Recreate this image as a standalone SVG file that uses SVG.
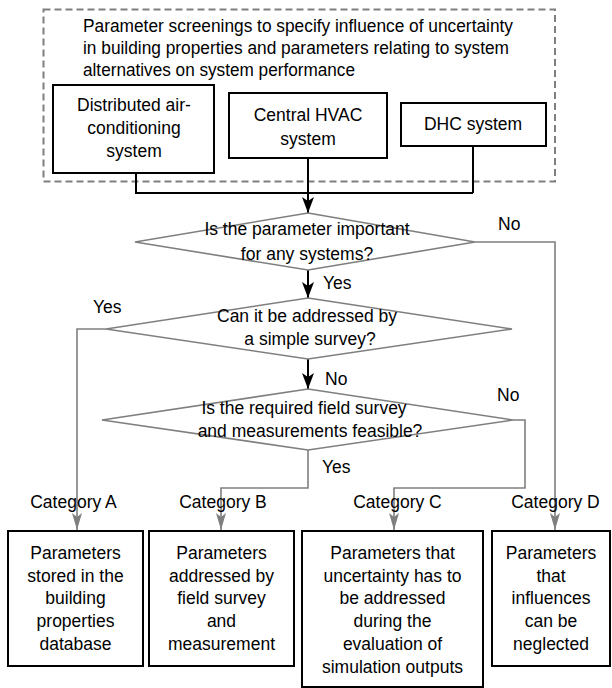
<svg xmlns="http://www.w3.org/2000/svg" width="612" height="688" viewBox="0 0 612 688">
<style>
text{font-family:"Liberation Sans",Arial,sans-serif;font-size:17.5px;fill:#000}
.c{text-anchor:middle}
.box{fill:#fff;stroke:#000;stroke-width:2}
.dia{fill:#fff;stroke:#7f7f7f;stroke-width:1.6}
.frame{fill:none;stroke:#7f7f7f;stroke-width:2;stroke-dasharray:7 4}
.bl{fill:none;stroke:#000;stroke-width:2}
.gl{fill:none;stroke:#7f7f7f;stroke-width:1.6}
</style>
<defs>
<marker id="ab" markerUnits="userSpaceOnUse" viewBox="0 0 16 12" refX="16" refY="6" markerWidth="16" markerHeight="12" orient="auto">
<path d="M0,0 L16,6 L0,12 L4,6 z" fill="#000"/>
</marker>
<marker id="ag" markerUnits="userSpaceOnUse" viewBox="0 0 17 10" refX="17" refY="5" markerWidth="17" markerHeight="10" orient="auto">
<path d="M0,0 L17,5 L0,10 L4,5 z" fill="#7f7f7f"/>
</marker>
</defs>

<g id="frame">
<rect class="frame" x="43.5" y="9.5" width="511.5" height="172"/>
<text x="83" y="32" textLength="430" lengthAdjust="spacingAndGlyphs">Parameter screenings to specify influence of uncertainty</text>
<text x="83" y="54" textLength="426" lengthAdjust="spacingAndGlyphs">in building properties and parameters relating to system</text>
<text x="83" y="76" textLength="272" lengthAdjust="spacingAndGlyphs">alternatives on system performance</text>
</g>

<g id="connectors">
<path class="bl" d="M136,173 V193 H473 M473,146 V193"/>
<path class="bl" d="M308,158 V213" marker-end="url(#ab)"/>
<path class="bl" d="M308,270 V298" marker-end="url(#ab)"/>
<path class="bl" d="M308,359 V389" marker-end="url(#ab)"/>
<path class="gl" d="M475,242 H555 V530" marker-end="url(#ag)"/>
<path class="gl" d="M106,329 H77 V530" marker-end="url(#ag)"/>
<path class="gl" d="M308,450 V488 H221 V530" marker-end="url(#ag)"/>
<path class="gl" d="M513,420 H525 V488 H394 V530" marker-end="url(#ag)"/>
<text x="498" y="230">No</text>
<text x="323" y="289">Yes</text>
<text x="93" y="313">Yes</text>
<text x="325" y="385">No</text>
<text x="497" y="401">No</text>
<text x="322" y="473">Yes</text>
<text class="c" x="73.5" y="508">Category A</text>
<text class="c" x="223" y="508">Category B</text>
<text class="c" x="397.5" y="508">Category C</text>
<text class="c" x="555.5" y="508">Category D</text>
</g>

<g id="distributed">
<rect class="box" x="53" y="85" width="161" height="88"/>
<text class="c" x="134" y="111">Distributed air-</text>
<text class="c" x="134" y="134">conditioning</text>
<text class="c" x="134" y="157">system</text>
</g>
<g id="central">
<rect class="box" x="229" y="93" width="158" height="65"/>
<text class="c" x="308" y="121">Central HVAC</text>
<text class="c" x="308" y="145">system</text>
</g>
<g id="dhc">
<rect class="box" x="401" y="103" width="145" height="43"/>
<text class="c" x="473" y="130">DHC system</text>
</g>

<g id="q1">
<polygon class="dia" points="308,213 475,242 308,270 135,242"/>
<text class="c" x="307" y="235">Is the parameter important</text>
<text class="c" x="307" y="260">for any systems?</text>
</g>
<g id="q2">
<polygon class="dia" points="308,298 512,329 308,359 106,329"/>
<text class="c" x="307" y="322">Can it be addressed by</text>
<text class="c" x="310" y="345">a simple survey?</text>
</g>
<g id="q3">
<polygon class="dia" points="308,389 513,420 308,450 102,420"/>
<text class="c" x="304" y="414">Is the required field survey</text>
<text class="c" x="310" y="437">and measurements feasible?</text>
</g>

<g id="catA">
<rect class="box" x="8" y="531" width="135" height="135"/>
<text class="c" x="75.5" y="559">Parameters</text>
<text class="c" x="75.5" y="582">stored in the</text>
<text class="c" x="75.5" y="604">building</text>
<text class="c" x="75.5" y="627">properties</text>
<text class="c" x="75.5" y="650">database</text>
</g>
<g id="catB">
<rect class="box" x="149" y="531" width="145" height="135"/>
<text class="c" x="221.5" y="559">Parameters</text>
<text class="c" x="221.5" y="582">addressed by</text>
<text class="c" x="221.5" y="604">field survey</text>
<text class="c" x="221.5" y="627">and</text>
<text class="c" x="221.5" y="650">measurement</text>
</g>
<g id="catC">
<rect class="box" x="302" y="531" width="181" height="156"/>
<text class="c" x="392.5" y="559">Parameters that</text>
<text class="c" x="392.5" y="582">uncertainty has to</text>
<text class="c" x="392.5" y="604">be addressed</text>
<text class="c" x="392.5" y="627">during the</text>
<text class="c" x="392.5" y="650">evaluation of</text>
<text class="c" x="392.5" y="673">simulation outputs</text>
</g>
<g id="catD">
<rect class="box" x="492" y="531" width="118" height="135"/>
<text class="c" x="551" y="559">Parameters</text>
<text class="c" x="551" y="582">that</text>
<text class="c" x="551" y="604">influences</text>
<text class="c" x="551" y="627">can be</text>
<text class="c" x="551" y="650">neglected</text>
</g>
</svg>
